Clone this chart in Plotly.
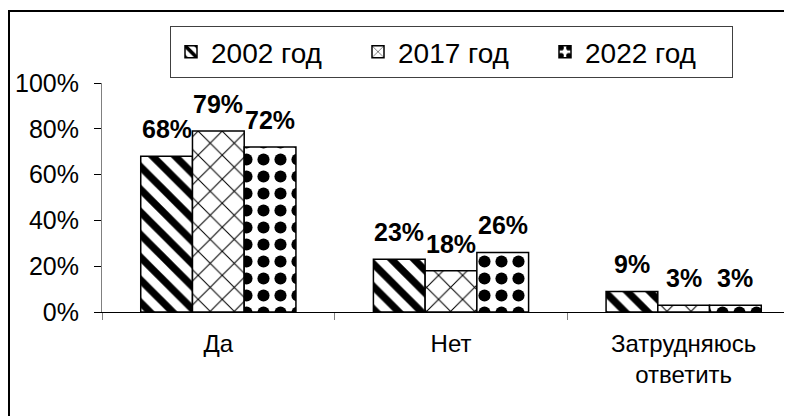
import plotly.graph_objects as go

categories = ["Да", "Нет", "Затрудняюсь<br>ответить"]
series_names = ["2002 год", "2017 год", "2022 год"]
values_2002 = [68, 23, 9]
values_2017 = [79, 18, 3]
values_2022 = [72, 26, 3]
y_ticks = [0, 20, 40, 60, 80, 100]
y_tick_text = [f"{v}%" for v in y_ticks]

FONT = "Arial, Liberation Sans, sans-serif"

patterns = [
    dict(shape="\\", fgcolor="black", bgcolor="white", size=16, solidity=0.45, fillmode="overlay", fgopacity=1),
    dict(shape="x", fgcolor="black", bgcolor="white", size=17, solidity=0.12, fillmode="overlay", fgopacity=1),
    dict(shape=".", fgcolor="black", bgcolor="white", size=17, solidity=0.4, fillmode="overlay", fgopacity=1),
]

# the page body adds an 8px offset; layout below is in figure pixels
L, R, T, B = 94, 0, 75, 112
pw = 792 - L - R
ph = 416 - T - B
BARGAP = 0.333
bar_px = pw / 3 * (1 - BARGAP) / 3

fig = go.Figure()
annotations = []
all_series = [values_2002, values_2017, values_2022]
for i, (name, vals, pat) in enumerate(zip(series_names, all_series, patterns)):
    fig.add_trace(go.Bar(
        x=categories, y=vals, name=name,
        marker=dict(color="white", pattern=pat, line=dict(color="black", width=1.5)),
        cliponaxis=False,
    ))
    for c, v in zip(categories, vals):
        annotations.append(dict(
            x=c, y=v, xref="x", yref="y", text=f"<b>{v}%</b>", showarrow=False,
            xanchor="center", yanchor="bottom", xshift=(i - 1) * bar_px, yshift=11,
            font=dict(family=FONT, size=25, color="black"),
        ))

fig.update_layout(
    width=792, height=416,
    margin=dict(l=L, r=R, t=T, b=B, pad=0, autoexpand=False),
    paper_bgcolor="white", plot_bgcolor="white",
    barmode="group", bargap=BARGAP, bargroupgap=0,
    font=dict(family=FONT, size=24, color="black"),
    showlegend=True,
    legend=dict(
        orientation="h", x=(162 - L) / pw, y=(416 - B - 18) / ph,
        xanchor="left", yanchor="top",
        bordercolor="#404040", borderwidth=1, bgcolor="white",
        font=dict(family=FONT, size=28, color="black"),
        entrywidth=142, entrywidthmode="pixels",
        traceorder="normal",
    ),
    xaxis=dict(
        range=[-0.5, 2.5], showgrid=False,
        showline=True, linecolor="black", linewidth=1,
        ticks="outside", tickson="boundaries", ticklen=7, tickcolor="#808080",
        tickfont=dict(family=FONT, size=24, color="black"),
        ticklabelstandoff=10, automargin=False,
        fixedrange=True,
    ),
    yaxis=dict(
        range=[0, 100], tickmode="array", tickvals=y_ticks, ticktext=y_tick_text,
        showgrid=False,
        showline=True, linecolor="#808080", linewidth=1,
        ticks="outside", ticklen=7, tickcolor="black",
        tickfont=dict(family=FONT, size=25, color="black"),
        ticklabelstandoff=10, automargin=False,
        zeroline=False, fixedrange=True,
    ),
    annotations=annotations,
    shapes=[dict(
        type="rect", xref="paper", yref="paper",
        x0=(1 - L) / pw, x1=1.2, y0=-1.0, y1=(416 - B - 3) / ph,
        line=dict(color="black", width=2), fillcolor="rgba(0,0,0,0)", layer="above",
    )],
)

fig.write_html("out.html")
